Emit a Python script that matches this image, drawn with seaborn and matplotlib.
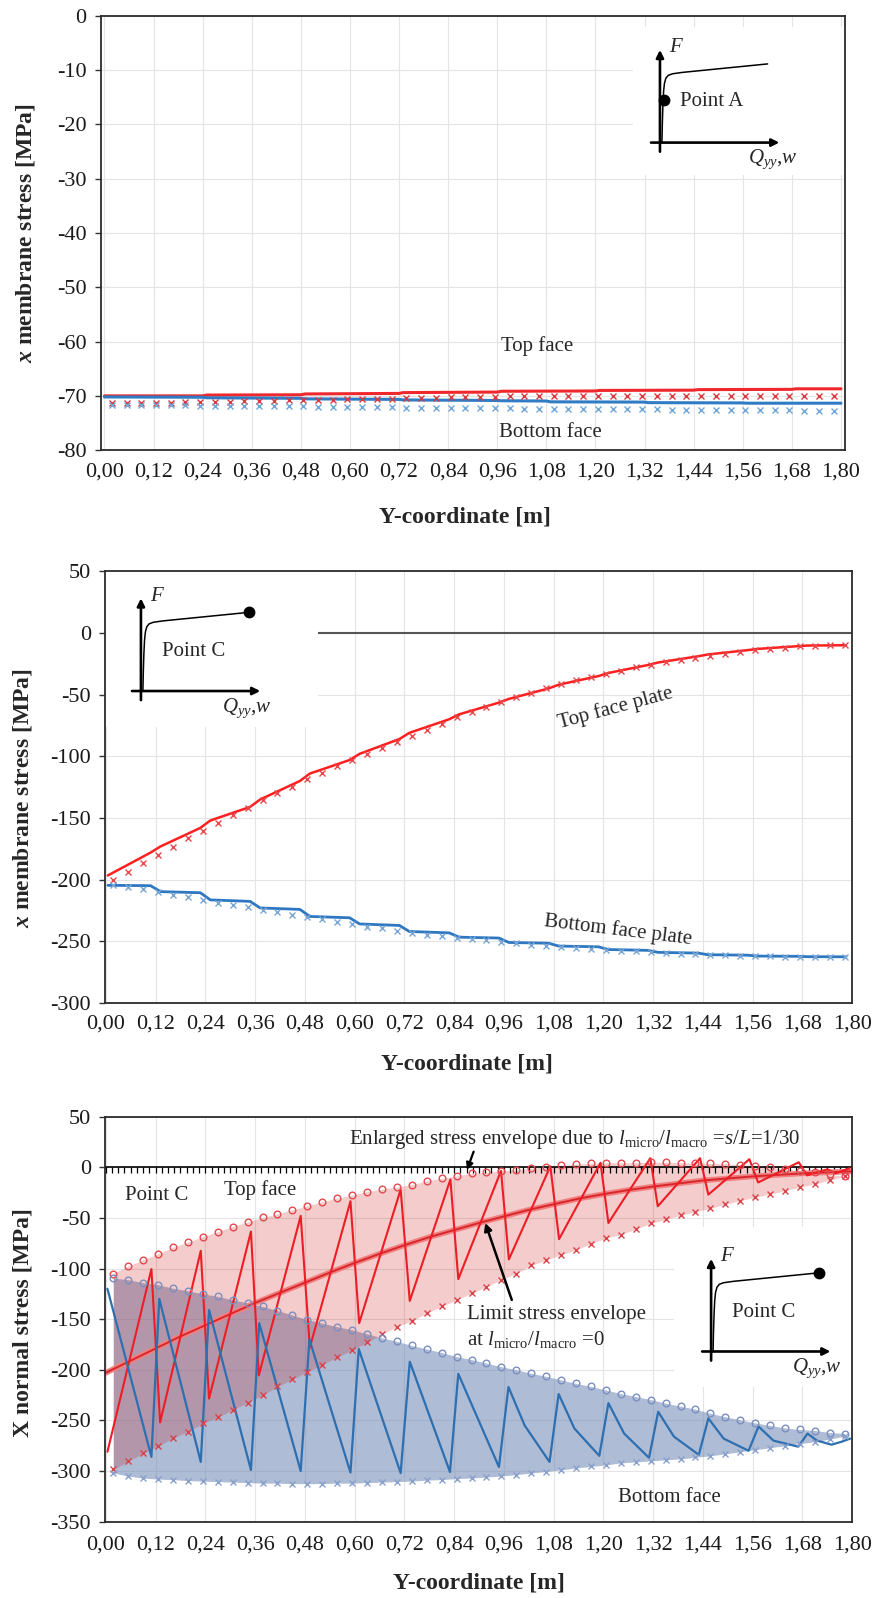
import matplotlib
matplotlib.use("Agg")
import matplotlib.pyplot as plt
from matplotlib.patches import Rectangle
import numpy as np
import seaborn as sns

# ------------------------------------------------------------------ style
sns.set_theme(style="whitegrid")
plt.rcParams["font.family"] = ["Liberation Serif", "DejaVu Serif"]
plt.rcParams["mathtext.fontset"] = "custom"
plt.rcParams["mathtext.rm"] = "Liberation Serif"
plt.rcParams["mathtext.it"] = "Liberation Serif:italic"
plt.rcParams["mathtext.bf"] = "Liberation Serif:bold"
try:
    plt.rcParams["mathtext.bfit"] = "Liberation Serif:italic:bold"
    X_SYM = r"$\mathbfit{x}$"
except KeyError:
    X_SYM = r"$\mathit{x}$"
plt.rcParams["axes.unicode_minus"] = False

# ------------------------------------------------------------------ shared axis data
XTICKS = [0.00, 0.12, 0.24, 0.36, 0.48, 0.60, 0.72, 0.84, 0.96, 1.08,
          1.20, 1.32, 1.44, 1.56, 1.68, 1.80]
XTICK_LABELS = ["0,00", "0,12", "0,24", "0,36", "0,48", "0,60", "0,72", "0,84",
                "0,96", "1,08", "1,20", "1,32", "1,44", "1,56", "1,68", "1,80"]

# element centres (m) where the FE stresses are sampled
Y_ELEM = [0.018, 0.054, 0.090, 0.126, 0.162, 0.198, 0.234, 0.270, 0.306, 0.342,
          0.378, 0.414, 0.450, 0.486, 0.522, 0.558, 0.594, 0.630, 0.666, 0.702,
          0.738, 0.774, 0.810, 0.846, 0.882, 0.918, 0.954, 0.990, 1.026, 1.062,
          1.098, 1.134, 1.170, 1.206, 1.242, 1.278, 1.314, 1.350, 1.386, 1.422,
          1.458, 1.494, 1.530, 1.566, 1.602, 1.638, 1.674, 1.710, 1.746, 1.782]

# ------------------------------------------------------------------ Point A (membrane stress)
P1_TOP_X = [0.00, 0.24, 0.25, 0.48, 0.49, 0.72, 0.73, 0.96, 0.97, 1.20, 1.21,
            1.44, 1.45, 1.68, 1.69, 1.80]
P1_TOP_LINE = [-70.00, -70.00, -69.85, -69.80, -69.65, -69.55, -69.40, -69.30,
               -69.15, -69.10, -69.00, -68.95, -68.85, -68.80, -68.70, -68.70]
P1_BOT_X = [0.00, 0.24, 0.25, 0.48, 0.49, 0.72, 0.73, 0.96, 0.97, 1.08, 1.09,
            1.32, 1.33, 1.56, 1.57, 1.80]
P1_BOT_LINE = [-70.20, -70.25, -70.35, -70.45, -70.55, -70.65, -70.75, -70.85,
               -70.90, -70.95, -71.10, -71.15, -71.25, -71.30, -71.35, -71.35]
P1_TOP_FE = [-71.40, -71.35, -71.35, -71.30, -71.25, -71.20, -71.15, -71.10, -71.05, -71.00,
             -70.95, -70.90, -70.85, -70.80, -70.75, -70.70, -70.65, -70.60, -70.55, -70.50,
             -70.45, -70.40, -70.35, -70.30, -70.25, -70.20, -70.15, -70.10, -70.10, -70.05,
             -70.05, -70.00, -70.00, -70.00, -69.95, -69.95, -69.95, -69.95, -69.95, -69.95,
             -69.95, -69.95, -69.95, -69.95, -69.95, -69.95, -69.95, -69.95, -69.95, -69.95]
P1_BOT_FE = [-71.65, -71.65, -71.70, -71.70, -71.75, -71.75, -71.80, -71.80, -71.85, -71.85,
             -71.90, -71.90, -71.95, -71.95, -72.00, -72.00, -72.05, -72.05, -72.10, -72.10,
             -72.15, -72.15, -72.20, -72.20, -72.25, -72.25, -72.30, -72.30, -72.35, -72.35,
             -72.40, -72.40, -72.40, -72.45, -72.45, -72.50, -72.50, -72.50, -72.55, -72.55,
             -72.55, -72.60, -72.60, -72.60, -72.65, -72.65, -72.65, -72.70, -72.70, -72.70]

# ------------------------------------------------------------------ Point C (membrane stress)
P2_LINE_X = [0.005, 0.108, 0.132, 0.228, 0.252, 0.348, 0.372, 0.468, 0.492, 0.588,
             0.612, 0.708, 0.732, 0.828, 0.852, 0.948, 0.972, 1.068, 1.092, 1.188,
             1.212, 1.308, 1.332, 1.428, 1.452, 1.548, 1.572, 1.668, 1.692, 1.785]
P2_TOP_LINE = [-196.5, -178.0, -173.0, -158.0, -152.0, -141.0, -135.0, -120.0, -114.0, -103.0,
               -98.0, -86.0, -81.0, -70.0, -66.0, -56.5, -53.5, -45.0, -42.0, -35.0,
               -32.5, -26.0, -24.0, -19.0, -17.5, -14.0, -13.0, -10.8, -10.3, -10.0]
P2_BOT_LINE = [-204.5, -204.8, -209.6, -210.5, -216.3, -217.5, -222.8, -224.0, -229.7, -230.8,
               -235.8, -237.0, -241.9, -243.0, -246.5, -247.2, -250.8, -251.4, -253.7, -254.3,
               -256.5, -257.2, -258.8, -259.4, -260.7, -261.1, -261.8, -262.0, -262.3, -262.4]
P2_TOP_FE = [-200.3, -193.6, -186.8, -180.0, -173.3, -166.5, -160.3, -153.9, -147.9, -142.2,
             -135.5, -129.6, -124.7, -118.7, -113.4, -108.0, -103.1, -98.2, -93.6, -88.7,
             -83.6, -78.5, -73.5, -68.5, -64.0, -60.0, -56.0, -52.0, -48.5, -45.0,
             -41.5, -38.5, -35.5, -33.0, -30.5, -28.0, -26.0, -24.0, -22.0, -20.0,
             -18.5, -17.0, -15.5, -14.0, -13.0, -12.0, -11.0, -10.5, -10.0, -9.5]
P2_BOT_FE = [-204.4, -205.7, -207.1, -209.8, -212.5, -213.8, -216.5, -218.6, -220.5, -222.4,
             -224.6, -225.9, -228.6, -230.5, -231.9, -234.0, -235.9, -238.1, -239.4, -241.3,
             -243.0, -244.5, -245.5, -247.0, -248.0, -249.0, -250.5, -251.5, -252.5, -253.5,
             -254.5, -255.2, -256.0, -256.8, -257.5, -258.0, -258.7, -259.2, -259.8, -260.2,
             -260.7, -261.0, -261.4, -261.7, -262.0, -262.2, -262.4, -262.5, -262.6, -262.7]

# ------------------------------------------------------------------ Point C (normal stress, micro model)
P3_TOP_UPPER = [-105.0, -97.5, -91.5, -85.5, -79.0, -74.0, -68.5, -63.5, -58.5, -54.0,
                -49.5, -46.0, -42.0, -38.0, -34.0, -30.5, -27.5, -24.0, -21.5, -19.5,
                -17.0, -13.5, -11.0, -8.5, -6.0, -5.0, -3.5, -2.5, -1.0, 0.5,
                2.0, 3.0, 4.0, 4.5, 4.5, 4.5, 5.0, 5.0, 4.5, 4.0,
                4.0, 3.5, 2.5, 1.5, 0.0, -2.0, -3.5, -5.0, -7.0, -9.0]
P3_TOP_LOWER = [-298.5, -290.5, -282.5, -275.5, -267.5, -261.0, -253.0, -247.0, -239.5, -232.5,
                -225.0, -216.5, -209.5, -202.0, -195.0, -187.5, -180.5, -173.0, -165.0, -157.5,
                -152.0, -144.0, -137.5, -131.0, -124.5, -118.0, -111.0, -105.0, -97.0, -91.5,
                -86.5, -81.5, -75.5, -70.0, -66.5, -61.0, -55.5, -51.5, -47.5, -44.0,
                -40.5, -36.5, -33.0, -29.5, -26.5, -23.0, -19.5, -16.5, -12.5, -9.0]
P3_BOT_UPPER = [-109.5, -111.0, -114.0, -116.0, -119.5, -122.0, -125.0, -127.5, -131.0, -134.0,
                -137.5, -141.5, -146.0, -150.5, -154.0, -157.5, -160.5, -164.5, -168.5, -172.0,
                -176.0, -179.5, -183.0, -187.0, -190.0, -193.5, -197.0, -200.0, -203.5, -206.5,
                -210.0, -213.5, -216.5, -220.0, -223.5, -226.5, -229.5, -233.0, -236.0, -239.0,
                -243.0, -246.5, -249.5, -252.5, -255.0, -257.5, -259.0, -260.0, -262.0, -263.0]
P3_BOT_LOWER = [-302.0, -305.0, -307.0, -308.0, -308.5, -309.5, -310.0, -310.5, -311.0, -311.5,
                -312.0, -312.0, -312.5, -312.5, -312.5, -312.0, -312.0, -311.5, -311.0, -310.5,
                -310.0, -309.0, -308.5, -307.5, -307.0, -306.0, -305.0, -303.5, -302.0, -300.5,
                -299.0, -297.0, -295.5, -294.0, -292.0, -291.0, -290.0, -289.0, -288.0, -286.5,
                -285.0, -283.0, -281.0, -279.0, -277.0, -275.0, -273.0, -271.0, -268.5, -265.5]

P3_LIMIT_X = [0.00, 0.06, 0.12, 0.18, 0.24, 0.30, 0.36, 0.42, 0.48, 0.54, 0.60,
              0.66, 0.72, 0.78, 0.84, 0.90, 0.96, 1.02, 1.08, 1.14, 1.20,
              1.26, 1.32, 1.38, 1.44, 1.50, 1.56, 1.62, 1.68, 1.74, 1.80]
P3_LIMIT_Y = [-203.0, -191.0, -179.0, -167.0, -156.0, -145.0, -134.0, -124.0, -114.0, -104.0, -94.5,
              -85.5, -77.0, -69.0, -62.0, -55.0, -48.5, -42.0, -36.5, -31.0, -26.5,
              -22.5, -19.0, -16.0, -13.0, -11.0, -9.0, -7.5, -6.0, -5.0, -4.0]

P3_TOP_SAW_X = [0.004, 0.110, 0.131, 0.229, 0.249, 0.350, 0.369, 0.470, 0.492, 0.590,
                0.611, 0.711, 0.733, 0.831, 0.850, 0.953, 0.972, 1.072, 1.093, 1.193,
                1.212, 1.313, 1.331, 1.433, 1.453, 1.552, 1.573, 1.671, 1.691, 1.740,
                1.760, 1.793]
P3_TOP_SAW_Y = [-281.0, -100.5, -252.0, -82.5, -228.5, -63.5, -205.5, -48.0, -178.0, -33.5,
                -154.0, -22.0, -132.0, -12.0, -110.5, -3.5, -91.0, 1.0, -71.0, 4.5,
                -55.0, 9.0, -38.5, 9.0, -27.0, 8.0, -15.0, 5.0, -8.0, -2.0,
                -6.0, -1.0]
P3_BOT_SAW_X = [0.004, 0.110, 0.129, 0.229, 0.249, 0.350, 0.370, 0.470, 0.491, 0.590,
                0.610, 0.711, 0.733, 0.830, 0.850, 0.948, 0.971, 1.010, 1.070, 1.092,
                1.130, 1.190, 1.212, 1.250, 1.310, 1.332, 1.370, 1.430, 1.453, 1.490,
                1.550, 1.574, 1.610, 1.670, 1.692, 1.715, 1.750, 1.775, 1.795]
P3_BOT_SAW_Y = [-120.0, -286.0, -130.0, -291.0, -141.0, -299.0, -154.0, -300.0, -170.0, -301.5,
                -179.5, -302.0, -192.0, -301.0, -204.0, -296.0, -217.0, -255.0, -291.0, -224.0,
                -258.0, -285.0, -233.0, -263.0, -287.0, -241.5, -266.0, -284.0, -248.0, -268.0,
                -280.0, -256.0, -270.0, -276.0, -263.0, -270.0, -274.0, -271.0, -268.0]

# ------------------------------------------------------------------ load-deflection sketch (unit box)
SKETCH_U = [0.090, 0.093, 0.097, 0.102, 0.108, 0.118, 0.135, 0.165, 0.238, 0.845]
SKETCH_V = [0.185, 0.330, 0.470, 0.580, 0.640, 0.680, 0.702, 0.714, 0.725, 0.790]

TXT = 15
TICK = 16
LAB = 17


def style_axes(ax, ylim, yticks, xlim, xpad):
    ax.set_xlim(*xlim)
    ax.set_ylim(*ylim)
    ax.set_xticks(XTICKS)
    ax.set_xticklabels(XTICK_LABELS)
    ax.set_yticks(yticks)
    ax.set_yticklabels([str(int(v)) for v in yticks])
    ax.grid(True, color="#e4e4e4", lw=0.8)
    ax.set_axisbelow(True)
    ax.tick_params(axis="x", length=0, pad=xpad, labelsize=TICK, colors="#1a1a1a")
    ax.tick_params(axis="y", length=4, width=1.0, direction="out", pad=6,
                   labelsize=TICK, color="#333333", labelcolor="#1a1a1a", left=True)
    for sp in ax.spines.values():
        sp.set_visible(True)
        sp.set_color("#2b2b2b")
        sp.set_linewidth(1.3)


def white_mask(ax, x0, y0, w, h):
    ax.add_patch(Rectangle((x0, y0), w, h, facecolor="white", edgecolor="none", zorder=0.9))


def draw_sketch(ax, bounds, point_label, dot_uv, label_xy, label_ha, q_xy):
    ins = ax.inset_axes(bounds, transform=ax.transData)
    ins.set_xlim(0, 1)
    ins.set_ylim(0, 1)
    ins.set_axis_off()
    arrow = dict(arrowstyle="-|>", color="black", lw=1.9, mutation_scale=11,
                 shrinkA=0, shrinkB=0)
    ins.annotate("", xy=(0.076, 0.898), xytext=(0.076, 0.115), arrowprops=arrow)
    ins.annotate("", xy=(0.929, 0.185), xytext=(0.012, 0.185), arrowprops=arrow)
    sns.lineplot(x=SKETCH_U, y=SKETCH_V, ax=ins, color="black", lw=1.1,
                 sort=False, estimator=None)
    ins.plot([dot_uv[0]], [dot_uv[1]], marker="o", ms=7.5, color="black", ls="none")
    ins.text(0.195, 0.915, "$F$", fontsize=TXT, ha="center", va="center")
    ins.text(label_xy[0], label_xy[1], point_label, fontsize=TXT, ha=label_ha, va="center")
    ins.text(q_xy[0], q_xy[1], r"$Q_{yy}$,$w$", fontsize=TXT, ha="center", va="center")


def line(ax, x, y, color, lw, z=2):
    sns.lineplot(x=x, y=y, ax=ax, color=color, lw=lw, sort=False, estimator=None, zorder=z)


def marks(ax, x, y, color, marker, ms, z=2.5):
    kws = dict(linestyle="none", marker=marker, markersize=ms, markeredgewidth=1.0,
               markeredgecolor=color, color=color)
    if marker == "o":
        kws["markerfacecolor"] = "none"
    sns.lineplot(x=x, y=y, ax=ax, sort=False, estimator=None, zorder=z, **kws)


fig = plt.figure(figsize=(8.85, 15.98), dpi=100)
ax1 = fig.add_axes([0.1136, 0.7183, 0.8412, 0.2718])
ax2 = fig.add_axes([0.1186, 0.3722, 0.8444, 0.2704])
ax3 = fig.add_axes([0.1186, 0.0478, 0.8444, 0.2534])

# ------------------------------------------------------------------ panel 1
white_mask(ax1, 1.2918, -29.3, 0.53, 27.3)
line(ax1, P1_TOP_X, P1_TOP_LINE, "#f0282d", 2.2)
line(ax1, P1_BOT_X, P1_BOT_LINE, "#2f7bc4", 2.2)
marks(ax1, Y_ELEM, P1_TOP_FE, "#d9383e", "x", 4.5)
marks(ax1, Y_ELEM, P1_BOT_FE, "#6ea7d8", "x", 4.5)
ax1.text(1.058, -60.9, "Top face", fontsize=TXT, ha="center", va="center")
ax1.text(1.09, -76.8, "Bottom face", fontsize=TXT, ha="center", va="center")
style_axes(ax1, (-80, 0), list(range(0, -81, -10)), (-0.0095, 1.8098), 9)
draw_sketch(ax1, [1.3316, -27.78, 0.3421, 23.95], "Point A", (0.103, 0.513),
            (0.219, 0.50), "left", (0.88, 0.06))
ax1.set_ylabel(X_SYM + " membrane stress [MPa]", fontsize=LAB, fontweight="bold", va="center")
ax1.yaxis.set_label_coords(-0.101, 0.5)
ax1.set_xlabel("Y-coordinate [m]", fontsize=LAB, fontweight="bold", va="center")
ax1.xaxis.set_label_coords(0.49, -0.154)

# ------------------------------------------------------------------ panel 2
ax2.axhline(0, color="#555555", lw=1.5, zorder=0.8)
white_mask(ax2, -0.01, -76.1, 0.522, 130)
line(ax2, P2_LINE_X, P2_TOP_LINE, "#ff1f1f", 1.8)
line(ax2, P2_LINE_X, P2_BOT_LINE, "#2e78c2", 2.0)
marks(ax2, Y_ELEM, P2_TOP_FE, "#e8474c", "x", 5)
marks(ax2, Y_ELEM, P2_BOT_FE, "#7aa6d6", "x", 5)
ax2.text(1.229, -61.3, "Top face plate", fontsize=TXT, ha="center", va="center", rotation=15)
ax2.text(1.235, -240.7, "Bottom face plate", fontsize=TXT, ha="center", va="center", rotation=-7)
style_axes(ax2, (-300, 50), list(range(50, -301, -50)), (-0.002, 1.8), 8)
draw_sketch(ax2, [0.0591, -66.6, 0.3374, 105.3], "Point C", (0.845, 0.79),
            (0.45, 0.49), "center", (0.834, 0.055))
ax2.set_ylabel(X_SYM + " membrane stress [MPa]", fontsize=LAB, fontweight="bold", va="center")
ax2.yaxis.set_label_coords(-0.110, 0.475)
ax2.set_xlabel("Y-coordinate [m]", fontsize=LAB, fontweight="bold", va="center")
ax2.xaxis.set_label_coords(0.485, -0.141)

# ------------------------------------------------------------------ panel 3
white_mask(ax3, 1.371, -216.9, 0.45, 158)
ax3.axhline(0, color="black", lw=1.2, zorder=1.5)
zero_ticks = np.arange(0.0, 1.8001, 0.015)
ax3.plot(zero_ticks, np.zeros_like(zero_ticks), ls="none", marker=3, ms=4,
         mew=0.9, color="black", zorder=1.5)
ax3.fill_between(Y_ELEM, P3_BOT_LOWER, P3_BOT_UPPER, color="#6e86b4", alpha=0.55,
                 lw=0, zorder=1.0)
ax3.fill_between(Y_ELEM, P3_TOP_LOWER, P3_TOP_UPPER, color="#cc0000", alpha=0.2,
                 lw=0, zorder=1.1)
line(ax3, P3_LIMIT_X, P3_LIMIT_Y, "#f08080", 4.0, z=1.8)
line(ax3, P3_LIMIT_X, P3_LIMIT_Y, "#d9262b", 1.4, z=1.9)
line(ax3, P3_TOP_SAW_X, P3_TOP_SAW_Y, "#ee1c24", 1.5, z=2.2)
line(ax3, P3_BOT_SAW_X, P3_BOT_SAW_Y, "#2d6fb0", 1.6, z=2.2)
marks(ax3, Y_ELEM, P3_TOP_UPPER, "#e3494e", "o", 4.8)
marks(ax3, Y_ELEM, P3_TOP_LOWER, "#d9434a", "x", 4.5)
marks(ax3, Y_ELEM, P3_BOT_UPPER, "#7b8fc0", "o", 4.8)
marks(ax3, Y_ELEM, P3_BOT_LOWER, "#8aa0cc", "x", 4.5)

ax3.text(1.13, 27.3,
         r"Enlarged stress envelope due to $l_{\mathrm{micro}}/l_{\mathrm{macro}}$ =$s/L$=1/30",
         fontsize=TXT, ha="center", va="center")
ax3.annotate("", xy=(0.871, -2.6), xytext=(0.887, 15.5),
             arrowprops=dict(arrowstyle="-|>", color="black", lw=1.6, mutation_scale=10,
                             shrinkA=0, shrinkB=0))
ax3.text(0.123, -28.2, "Point C", fontsize=TXT, ha="center", va="center")
ax3.text(0.372, -22.3, "Top face", fontsize=TXT, ha="center", va="center")
ax3.text(0.872, -145.8, "Limit stress envelope", fontsize=TXT, ha="left", va="center")
ax3.text(0.872, -170.0, r"at $l_{\mathrm{micro}}/l_{\mathrm{macro}}$ =0", fontsize=TXT,
         ha="left", va="center")
ax3.annotate("", xy=(0.915, -55.0), xytext=(0.979, -131.0),
             arrowprops=dict(arrowstyle="-|>", color="black", lw=1.8, mutation_scale=11,
                             shrinkA=0, shrinkB=0))
ax3.text(1.36, -326.0, "Bottom face", fontsize=TXT, ha="center", va="center")
style_axes(ax3, (-350, 50), list(range(50, -351, -50)), (-0.002, 1.8), 10)
draw_sketch(ax3, [1.434, -205.7, 0.3374, 128.4], "Point C", (0.85, 0.792),
            (0.45, 0.485), "center", (0.831, 0.057))
ax3.set_ylabel("X normal stress [MPa]", fontsize=LAB, fontweight="bold", va="center")
ax3.yaxis.set_label_coords(-0.110, 0.492)
ax3.set_xlabel("Y-coordinate [m]", fontsize=LAB, fontweight="bold", va="center")
ax3.xaxis.set_label_coords(0.5, -0.152)

fig.savefig("out.png", dpi=100)
